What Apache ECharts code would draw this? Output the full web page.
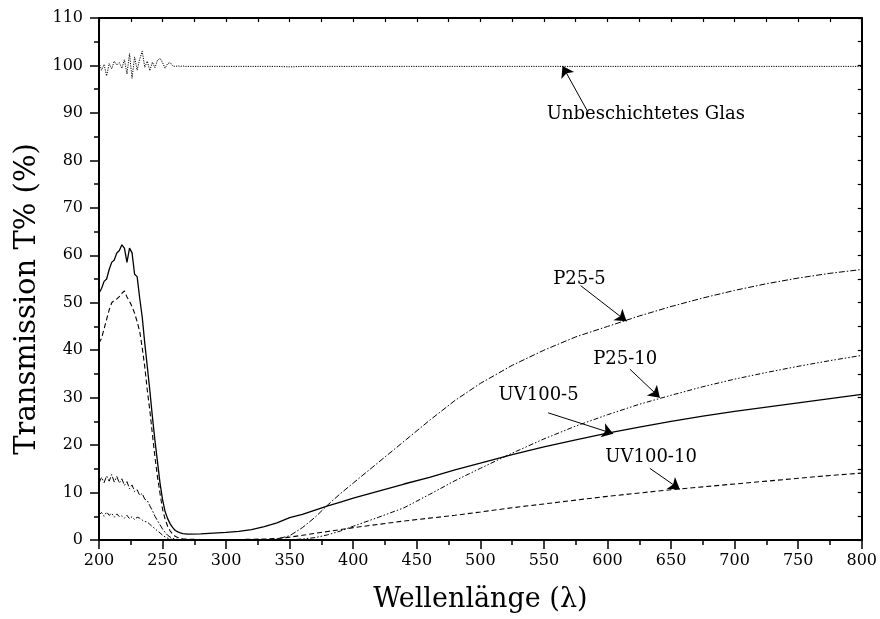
<!DOCTYPE html>
<html>
<head>
<meta charset="utf-8">
<title>Transmission</title>
<script src="https://cdn.jsdelivr.net/npm/echarts@6/dist/echarts.min.js"></script>
<style>
  html, body { margin: 0; padding: 0; background: #fff; }
  #chart { width: 880px; height: 619px; }
</style>
</head>
<body>
<div id="chart"></div>
<script>
// Wavelength grid (nm): fine steps in the noisy UV region, coarser above
const wavelength = [
  200, 202, 204, 206, 208, 210, 212, 214, 216, 218, 220, 222, 224, 226, 228, 230, 232, 234,
  236, 238, 240, 242, 244, 246, 248, 250, 252, 254, 256, 258, 260, 262, 264, 266, 268, 270,
  280, 290, 300, 310, 320, 330, 340, 350, 360, 370, 380, 390, 400, 420, 440, 460, 480, 500,
  525, 550, 575, 600, 625, 650, 675, 700, 725, 750, 775, 800
];

// Transmission (%) of each sample
const glass = [
  100.6, 99.0, 100.2, 97.8, 100.4, 99.3, 100.9, 100.1, 100.6, 99.4, 101.2, 98.2, 102.5, 97.3, 101.8, 99.0, 101.3, 103.0,
  99.6, 100.9, 98.9, 100.7, 99.5, 101.1, 101.5, 100.6, 99.4, 100.4, 100.6, 99.9, 99.8, 99.9, 99.8, 99.9, 99.8, 99.8,
  99.8, 99.8, 99.8, 99.8, 99.8, 99.8, 99.8, 99.7, 99.8, 99.8, 99.8, 99.8, 99.8, 99.8, 99.8, 99.8, 99.8, 99.8,
  99.8, 99.8, 99.8, 99.8, 99.8, 99.8, 99.8, 99.8, 99.8, 99.8, 99.8, 99.8
];
const uv100_5 = [
  52.0, 53.0, 54.5, 55.0, 57.0, 58.5, 59.0, 60.5, 61.0, 62.2, 61.5, 58.5, 61.5, 60.5, 56.0, 55.5, 51.0, 47.0,
  41.5, 36.5, 31.5, 26.0, 21.0, 16.5, 12.0, 8.5, 6.0, 4.5, 3.4, 2.6, 2.0, 1.7, 1.5, 1.35, 1.3, 1.25,
  1.3, 1.45, 1.6, 1.8, 2.2, 2.8, 3.6, 4.7, 5.4, 6.3, 7.2, 8.0, 8.8, 10.3, 11.8, 13.2, 14.8, 16.2,
  18.0, 19.6, 21.1, 22.5, 23.8, 25.0, 26.1, 27.1, 28.0, 28.9, 29.8, 30.7
];
const uv100_10 = [
  41.5, 42.5, 44.5, 46.5, 48.5, 50.0, 50.5, 50.8, 51.3, 52.0, 52.5, 51.2, 50.3, 49.2, 47.8, 46.0, 44.0, 40.5,
  36.5, 31.5, 27.3, 22.3, 17.5, 13.3, 9.8, 6.5, 4.4, 2.9, 1.9, 1.2, 0.8, 0.5, 0.35, 0.25, 0.2, 0.15,
  0.1, 0.1, 0.1, 0.1, 0.15, 0.2, 0.3, 0.6, 1.0, 1.4, 1.8, 2.2, 2.6, 3.3, 4.0, 4.6, 5.2, 5.9,
  6.8, 7.6, 8.4, 9.2, 9.9, 10.6, 11.2, 11.8, 12.4, 13.0, 13.6, 14.1
];
const p25_5 = [
  12.0, 13.2, 12.1, 13.5, 12.4, 13.8, 12.2, 13.4, 12.0, 12.9, 11.5, 12.3, 10.8, 11.6, 10.2, 10.6, 9.4, 9.8,
  8.6, 8.3, 7.2, 6.2, 5.0, 4.1, 3.2, 2.3, 1.6, 1.0, 0.6, 0.35, 0.2, 0.1, 0.05, 0, 0, 0,
  0, 0, 0, 0, 0, 0.05, 0.2, 0.9, 2.6, 4.8, 7.4, 9.8, 12.0, 16.4, 20.8, 25.2, 29.4, 33.0,
  36.8, 40.0, 42.8, 45.0, 47.2, 49.2, 51.0, 52.6, 54.0, 55.2, 56.2, 57.0
];
const p25_10 = [
  5.3, 5.8, 5.0, 5.9, 5.2, 5.6, 4.8, 5.5, 4.9, 5.1, 4.6, 5.2, 4.5, 4.9, 4.3, 4.8, 4.6, 4.2,
  3.9, 3.8, 3.3, 2.8, 2.4, 1.9, 1.5, 1.0, 0.65, 0.4, 0.2, 0.1, 0.05, 0, 0, 0, 0, 0,
  0, 0, 0, 0, 0, 0, 0, 0.05, 0.2, 0.5, 1.1, 1.9, 2.9, 4.8, 6.8, 9.6, 12.5, 15.1,
  18.3, 21.3, 24.0, 26.4, 28.6, 30.5, 32.3, 33.9, 35.3, 36.6, 37.8, 38.9
];

// Axis ranges and tick spacing
const xRange = [200, 800];
const yRange = [0, 110];
const xStep = 50;
const yStep = 10;

// Sample names
const sampleNames = ['Unbeschichtetes Glas', 'P25-5', 'P25-10', 'UV100-5', 'UV100-10'];

const FONT = 'DejaVu Serif';
const INK = '#000';

// Annotation: label centre, arrow tail and arrow tip, in data units (nm, %)
const notes = {
  'Unbeschichtetes Glas': { text: [630.2, 89.6], from: [584.8, 90.1], to: [564.6, 99.9] },
  'P25-5':    { text: [578.0, 54.9], from: [578.9, 53.6], to: [615.0, 46.1] },
  'P25-10':   { text: [613.9, 38.1], from: [617.6, 36.0], to: [641.2, 30.0] },
  'UV100-5':  { text: [545.8, 30.4], from: [553.3, 26.8], to: [604.5, 22.4] },
  'UV100-10': { text: [634.3, 17.4], from: [633.3, 15.1], to: [656.9, 10.7] }
};

function pairs(values) {
  return wavelength.map((w, i) => [w, values[i]]);
}

function curve(name, values, dash, width) {
  const n = notes[name];
  return {
    name: name,
    type: 'line',
    data: pairs(values),
    showSymbol: false,
    symbol: 'none',
    silent: true,
    clip: true,
    z: 3,
    lineStyle: { color: INK, width: width, type: dash },
    markLine: {
      silent: true,
      symbol: ['none', 'arrow'],
      symbolSize: 11,
      label: { show: false },
      lineStyle: { color: INK, width: 1, type: 'solid' },
      data: [[{ coord: n.from }, { coord: n.to }]]
    },
    markPoint: {
      silent: true,
      symbol: 'rect',
      symbolSize: 0,
      itemStyle: { color: 'transparent' },
      label: {
        show: true,
        position: 'inside',
        formatter: '{b}',
        fontFamily: FONT,
        fontSize: 18,
        color: INK
      },
      data: [{ name: name, coord: n.text }]
    }
  };
}

const axisLine = { show: true, onZero: false, lineStyle: { color: INK, width: 2 } };

const option = {
  animation: false,
  backgroundColor: '#fff',
  grid: { left: 99, top: 18, width: 763, height: 522, containLabel: false },
  xAxis: [
    {
      type: 'value', min: xRange[0], max: xRange[1], interval: xStep, position: 'bottom',
      axisLine: axisLine,
      axisTick: { show: true, inside: false, length: 9, lineStyle: { color: INK, width: 1.5 } },
      minorTick: { show: true, splitNumber: 2, length: 5, lineStyle: { color: INK, width: 1.5 } },
      splitLine: { show: false },
      minorSplitLine: { show: false },
      axisLabel: { margin: 13, fontFamily: FONT, fontSize: 16, color: INK },
      name: 'Wellenlänge (λ)', nameLocation: 'middle', nameGap: 46,
      nameTextStyle: { fontFamily: FONT, fontSize: 27, color: INK }
    },
    {
      type: 'value', min: xRange[0], max: xRange[1], interval: xStep / 2, position: 'top',
      axisLine: axisLine,
      axisTick: { show: true, inside: true, length: 4, lineStyle: { color: INK, width: 1.2 } },
      axisLabel: { show: false },
      splitLine: { show: false }
    }
  ],
  yAxis: [
    {
      type: 'value', min: yRange[0], max: yRange[1], interval: yStep, position: 'left',
      axisLine: axisLine,
      axisTick: { show: true, inside: false, length: 9, lineStyle: { color: INK, width: 1.5 } },
      minorTick: { show: true, splitNumber: 2, length: 5, lineStyle: { color: INK, width: 1.5 } },
      splitLine: { show: false },
      minorSplitLine: { show: false },
      axisLabel: { margin: 16, fontFamily: FONT, fontSize: 16, color: INK },
      name: 'Transmission T% (%)', nameLocation: 'middle', nameGap: 54,
      nameTextStyle: { fontFamily: FONT, fontSize: 29, color: INK, padding: [0, 40, 0, 0] }
    },
    {
      type: 'value', min: yRange[0], max: yRange[1], interval: yStep / 2, position: 'right',
      axisLine: axisLine,
      axisTick: { show: true, inside: true, length: 4, lineStyle: { color: INK, width: 1.2 } },
      axisLabel: { show: false },
      splitLine: { show: false }
    }
  ],
  series: [
    curve(sampleNames[0], glass, [1.2, 1.2], 1),
    curve(sampleNames[1], p25_5, [6, 2, 1.5, 2], 1),
    curve(sampleNames[2], p25_10, [5, 2, 1.5, 2, 1.5, 2], 1),
    curve(sampleNames[3], uv100_5, 'solid', 1.3),
    curve(sampleNames[4], uv100_10, [5, 3], 1.1)
  ]
};

const chart = echarts.init(document.getElementById('chart'), null, { renderer: 'canvas' });
chart.setOption(option);
</script>
</body>
</html>
